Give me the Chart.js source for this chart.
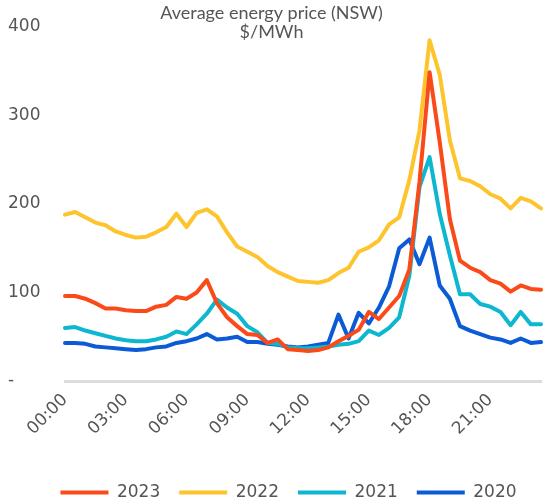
<!DOCTYPE html>
<html><head><meta charset="utf-8">
<script src="https://cdn.jsdelivr.net/npm/chart.js@4"></script>
<style>html,body{margin:0;padding:0;background:#fff;overflow:hidden}</style>
</head><body>
<canvas id="c" width="543" height="500"></canvas>
<script>
const times = ["00:00","00:30","01:00","01:30","02:00","02:30","03:00","03:30","04:00","04:30","05:00","05:30",
"06:00","06:30","07:00","07:30","08:00","08:30","09:00","09:30","10:00","10:30","11:00","11:30",
"12:00","12:30","13:00","13:30","14:00","14:30","15:00","15:30","16:00","16:30","17:00","17:30",
"18:00","18:30","19:00","19:30","20:00","20:30","21:00","21:30","22:00","22:30","23:00","23:30"];

const s2023 = [96,96,93,88,82,82,80,79,79,84,86,95,
93,100,114,88,72,62,53,52,43,47,36,35,
34,35,38,45,51,58,78,70,83,96,126,225,
349,270,183,136,128,123,114,110,101,108,104,103];

const s2022 = [188,191,185,179,176,169,165,162,163,168,174,189,
174,190,194,186,168,152,146,140,130,123,118,113,
112,111,114,122,128,146,151,159,177,185,227,283,
385,346,272,229,226,220,211,206,195,207,203,195];

const s2021 = [60,61,57,54,51,48,46,45,45,47,50,56,
53,64,76,92,83,76,62,55,43,42,38,37,
37,38,39,41,42,45,57,52,60,72,119,219,
253,189,142,98,98,87,84,78,63,78,64,64];

const s2020 = [43,43,42,39,38,37,36,35,36,38,39,43,
45,48,53,47,48,50,44,44,42,41,39,38,
39,41,43,75,48,77,65,83,107,150,160,132,
162,108,93,62,57,53,49,47,43,48,43,44];

const yTicks = [0,100,200,300,400];

const RED = '#FA4A1A', YELLOW = '#FEC42D', CYAN = '#0DB7D0', BLUE = '#0B5BD6';
const TXT = '#555555';

const titlePlugin = {
  id:'titleText',
  afterDraw(chart){
    const ctx = chart.ctx;
    ctx.save();
    ctx.fillStyle = TXT;
    ctx.textAlign = 'center';
    ctx.textBaseline = 'alphabetic';
    ctx.font = '18px Lato';
    ctx.fillText('Average energy price (NSW)', 271.5, 19);
    ctx.fillText('$/MWh', 271.5, 38);
    ctx.restore();
  }
};
const legendShift = {
  id:'legendShift',
  afterLayout(chart){
    const l = chart.legend;
    l.top += 11; l.bottom += 11;
    l.left += 14; l.right += 14;
  }
};

function ds(label, data, color){
  return {label, data, borderColor:color, backgroundColor:color, borderWidth:4,
    pointRadius:0, pointHoverRadius:0, tension:0, borderCapStyle:'round', borderJoinStyle:'round'};
}

new Chart(document.getElementById('c'), {
  type:'line',
  data:{labels:times, datasets:[
    ds('2023', s2023, RED), ds('2022', s2022, YELLOW), ds('2021', s2021, CYAN), ds('2020', s2020, BLUE)
  ]},
  options:{
    responsive:false, animation:false, events:[],
    layout:{padding:{left:8, top:27, right:2, bottom:0}},
    plugins:{
      title:{display:false}, tooltip:{enabled:false},
      legend:{position:'bottom', labels:{usePointStyle:true, pointStyle:'line', pointStyleWidth:48,
        boxHeight:17, padding:19, color:TXT, font:{family:'DejaVu Sans', size:17}}}
    },
    scales:{
      x:{grid:{display:false, drawTicks:false}, border:{display:true, color:'#dddddd', width:3},
        ticks:{autoSkip:false, maxRotation:45, minRotation:45, padding:9, color:TXT,
          font:{family:'DejaVu Sans', size:17},
          callback:(v,i)=> i%6===0 ? times[i] : null},
        afterFit:s=>{ s.height = 73; }},
      y:{min:0, max:400, grid:{display:false, drawTicks:false}, border:{display:false},
        afterBuildTicks:s=>{ s.ticks = yTicks.map(v=>({value:v})); },
        ticks:{crossAlign:'far', color:TXT, font:{family:'DejaVu Sans', size:17},
          callback:v=> v===0 ? '-' : String(v)},
        afterFit:s=>{ s.width = 57; }}
    }
  },
  plugins:[titlePlugin, legendShift]
});
</script>
</body></html>
